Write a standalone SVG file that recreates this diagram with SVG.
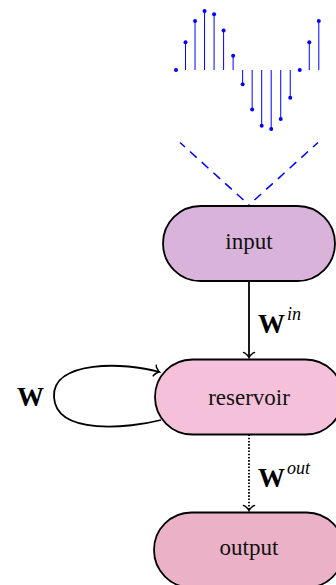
<svg xmlns="http://www.w3.org/2000/svg" width="336" height="585" viewBox="0 0 336 585">
<style>
.node{stroke:#000;stroke-width:1.8}
.lbl{font-family:"Liberation Serif",serif;font-size:23px;fill:#111;text-anchor:middle}
.W{font-family:"Liberation Serif",serif;font-size:27px;font-weight:bold;fill:#000}
.sup{font-family:"Liberation Serif",serif;font-size:18px;font-style:italic;fill:#000}
.stem{stroke:#0000ff;stroke-width:1}
.dot{fill:#0000ff}
.dash{stroke:#0000ff;stroke-width:1.5;fill:none;stroke-dasharray:9 6.8;stroke-dashoffset:2.3}
.conn{stroke:#000;stroke-width:1.8;fill:none}
</style>
<defs>
<marker id="to" viewBox="-7 -7 9 14" markerWidth="9" markerHeight="14" refX="0" refY="0" orient="auto" markerUnits="userSpaceOnUse">
<path d="M-5,-5.5 C-4.7,-3.4 -1,-0.35 0,0 C-1,0.35 -4.7,3.4 -5,5.5" fill="none" stroke="#000" stroke-width="1.5" stroke-linecap="round"/>
</marker>
</defs>
<g id="signal">
<line class="stem" x1="185.52" y1="70" x2="185.52" y2="42.35"/>
<line class="stem" x1="195.04" y1="70" x2="195.04" y2="21.03"/>
<line class="stem" x1="204.56" y1="70" x2="204.56" y2="10.93"/>
<line class="stem" x1="214.08" y1="70" x2="214.08" y2="14.37"/>
<line class="stem" x1="223.6" y1="70" x2="223.6" y2="30.55"/>
<line class="stem" x1="233.12" y1="70" x2="233.12" y2="55.76"/>
<line class="stem" x1="242.64" y1="70" x2="242.64" y2="84.24"/>
<line class="stem" x1="252.16" y1="70" x2="252.16" y2="109.45"/>
<line class="stem" x1="261.68" y1="70" x2="261.68" y2="125.63"/>
<line class="stem" x1="271.2" y1="70" x2="271.2" y2="129.07"/>
<line class="stem" x1="280.72" y1="70" x2="280.72" y2="118.97"/>
<line class="stem" x1="290.24" y1="70" x2="290.24" y2="97.65"/>
<line class="stem" x1="309.28" y1="70" x2="309.28" y2="42.35"/>
<line class="stem" x1="318.8" y1="70" x2="318.8" y2="21.03"/>
<circle class="dot" cx="176" cy="70" r="2"/>
<circle class="dot" cx="185.52" cy="42.35" r="2"/>
<circle class="dot" cx="195.04" cy="21.03" r="2"/>
<circle class="dot" cx="204.56" cy="10.93" r="2"/>
<circle class="dot" cx="214.08" cy="14.37" r="2"/>
<circle class="dot" cx="223.6" cy="30.55" r="2"/>
<circle class="dot" cx="233.12" cy="55.76" r="2"/>
<circle class="dot" cx="242.64" cy="84.24" r="2"/>
<circle class="dot" cx="252.16" cy="109.45" r="2"/>
<circle class="dot" cx="261.68" cy="125.63" r="2"/>
<circle class="dot" cx="271.2" cy="129.07" r="2"/>
<circle class="dot" cx="280.72" cy="118.97" r="2"/>
<circle class="dot" cx="290.24" cy="97.65" r="2"/>
<circle class="dot" cx="299.76" cy="70" r="2"/>
<circle class="dot" cx="309.28" cy="42.35" r="2"/>
<circle class="dot" cx="318.8" cy="21.03" r="2"/>
<path class="dash" d="M180,142.5 L249,205"/>
<path class="dash" d="M318,142.5 L249,205"/>
</g>
<g id="input">
<rect class="node" x="163" y="206" width="172" height="75" rx="37.5" fill="#d9b3d9"/>
<text class="lbl" x="249" y="249">input</text>
</g>
<g id="reservoir">
<rect class="node" x="155" y="359.5" width="188" height="75" rx="37.5" fill="#f5c1da"/>
<text class="lbl" x="249" y="405">reservoir</text>
</g>
<g id="output">
<rect class="node" x="154" y="512.5" width="190" height="75" rx="37.5" fill="#ebb1c6"/>
<text class="lbl" x="249" y="555">output</text>
</g>
<g id="connectors">
<path class="conn" d="M249,281 L249,357.5" marker-end="url(#to)"/>
<path class="conn" d="M249,434.5 L249,510.5" stroke-dasharray="1.6 1.6" marker-end="url(#to)"/>
<path class="conn" d="M161,420 C130,428 56,436 54,397 C52,360 125,362 159.5,372" marker-end="url(#to)"/>
<text class="W" x="258" y="333">W</text><text class="sup" x="287" y="320">in</text>
<text class="W" x="258" y="487">W</text><text class="sup" x="287" y="473.5">out</text>
<text class="W" x="17" y="406">W</text>
</g>
</svg>
